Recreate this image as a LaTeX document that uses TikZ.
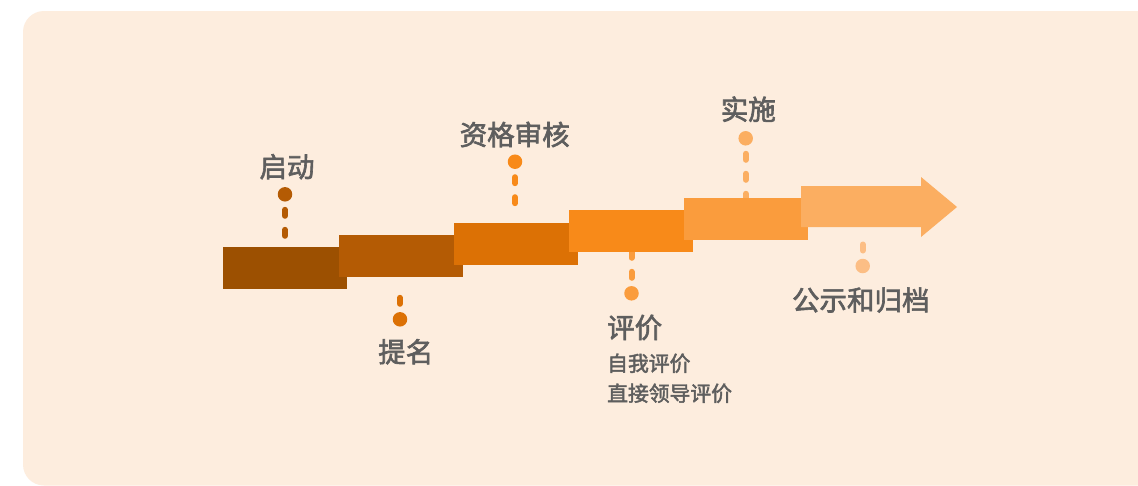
\documentclass[tikz,border=0pt]{standalone}
\usepackage{fontspec}
\newfontfamily\cjk{Noto Sans CJK SC}[FakeBold=2.2]
\usetikzlibrary{backgrounds}
\definecolor{bgpeach}{HTML}{FDEDDE}
\definecolor{cA}{HTML}{9C5001}
\definecolor{cB}{HTML}{B45B04}
\definecolor{cC}{HTML}{DC7105}
\definecolor{cD}{HTML}{F88A19}
\definecolor{cE}{HTML}{FA9C3D}
\definecolor{cF}{HTML}{FBAE61}
\definecolor{cG}{HTML}{FCBE85}
\definecolor{txt}{HTML}{5E5E5E}
\tikzset{
  stagebox/.style={rectangle, inner sep=0pt, minimum width=124pt, minimum height=42pt},
  dotnode/.style={circle, inner sep=0pt, minimum size=14.5pt},
  conn/.style={line width=6pt, line cap=round, dash pattern=on 6pt off 14pt, dash phase=4.5pt},
  title/.style={text=txt, font=\cjk\fontsize{27.5}{32}\selectfont, inner sep=0pt},
  subtitle/.style={text=txt, font=\cjk\fontsize{20.8}{25}\selectfont, inner sep=0pt, anchor=west},
}
\begin{document}
\begin{tikzpicture}[x=1pt, y=-1pt]
\useasboundingbox (0,0) rectangle (1138,485);
% stages
\node[stagebox, fill=cA] (r1) at (284.5,268) {};
\node[stagebox, fill=cB] (r2) at (400.5,256) {};
\node[stagebox, fill=cC] (r3) at (516,244) {};
\node[stagebox, fill=cD] (r4) at (631,231) {};
\node[stagebox, fill=cE] (r5) at (745.75,219) {};
\fill[cF] (801,186) -- (921,186) -- (921,177) -- (957,207) -- (921,237) -- (921,227) -- (801,227) -- cycle;
\coordinate (arrowbottom) at (862.7,227);
% dots
\node[dotnode, fill=cB] (d1) at (285,194.3) {};
\node[dotnode, fill=cC] (d2) at (400,319.3) {};
\node[dotnode, fill=cD] (d3) at (515,161.7) {};
\node[dotnode, fill=cE] (d4) at (631.5,293.3) {};
\node[dotnode, fill=cF] (d5) at (745.7,138.3) {};
\node[dotnode, fill=cG] (d6) at (862.7,266) {};
% line ends
\coordinate (e1) at (285,247);
\coordinate (e2) at (400,293);
\coordinate (e3) at (515,212);
\coordinate (e4) at (631.5,252);
\coordinate (e5) at (745.7,198);
\coordinate (e6) at (862.7,240);
% labels
\node[title] (t1) at (287,166.7) {启动};
\node[title] (t2) at (405.8,351.7) {提名};
\node[title] (t3) at (514.7,134.5) {资格审核};
\node[title, anchor=west] (t4) at (607,327.5) {评价};
\node[subtitle] (s1) at (607,363.3) {自我评价};
\node[subtitle] (s2) at (607,393.3) {直接领导评价};
\node[title] (t5) at (748.3,109.2) {实施};
\node[title] (t6) at (860.8,300) {公示和归档};
\begin{scope}[on background layer]
  \fill[white] (0,0) rectangle (1138,485);
  \fill[bgpeach, rounded corners=21pt] (23,11) rectangle (1170,485.5);
  \draw[conn, draw=cB] (d1.center) -- (e1);
  \draw[conn, draw=cC] (d2.center) -- (e2);
  \draw[conn, draw=cD] (d3.center) -- (e3);
  \draw[conn, draw=cE] (d4.center) -- (e4);
  \draw[conn, draw=cF] (d5.center) -- (e5);
  \draw[conn, draw=cG] (d6.center) -- (e6);
\end{scope}
\end{tikzpicture}
\end{document}
